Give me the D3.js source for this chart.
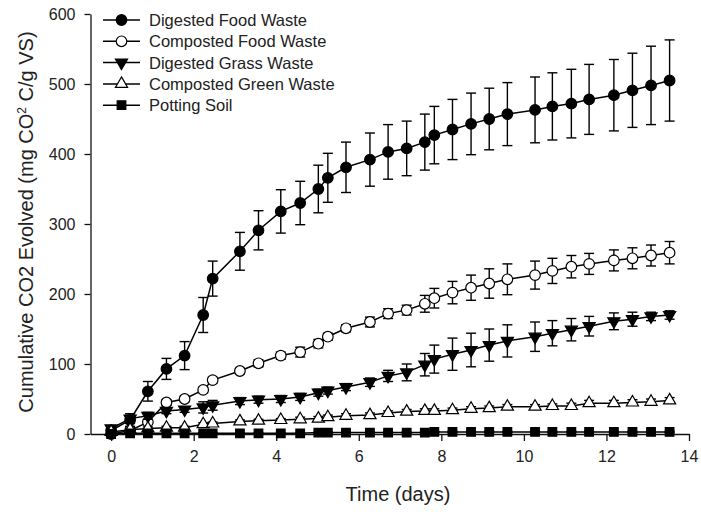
<!DOCTYPE html>
<html>
<head>
<meta charset="utf-8">
<script src="https://cdn.jsdelivr.net/npm/d3@7"></script>
<style>
  body { margin: 0; background: #fff; }
  svg text { font-family: Arial, "Liberation Sans", sans-serif; fill: #222; }
</style>
</head>
<body>
<div id="chart"></div>
<script>
// sampling times (days)
var days = [0, 0.46, 0.89, 1.34, 1.78, 2.23, 2.46, 3.12, 3.57, 4.11, 4.58, 5.02, 5.25, 5.69, 6.27, 6.71,
  7.16, 7.60, 7.83, 8.27, 8.72, 9.16, 9.60, 10.27, 10.69, 11.15, 11.58, 12.18, 12.63, 13.08, 13.53];

var digestedFood = [5, 20, 61, 93, 112, 170, 222, 261, 291, 318, 330, 350, 366, 381, 392, 403,
  408, 417, 427, 435, 443, 450, 457, 463, 468, 472, 478, 484, 491, 498, 505];
var digestedFoodErr = [3, 9, 14, 15, 20, 25, 25, 27, 28, 31, 31, 34, 35, 36, 38, 39,
  39, 40, 41, 43, 44, 44, 45, 47, 48, 49, 50, 51, 53, 56, 58];

var compostedFood = [0, 5, 17, 45, 50, 63, 77, 90, 101, 112, 117, 129, 139, 151, 160, 172,
  177, 186, 194, 202, 209, 215, 221, 227, 233, 239, 243, 248, 251, 255, 259];
var compostedFoodErr = [1, 2, 3, 4, 4, 4, 4, 4, 5, 5, 7, 6, 5, 5, 7, 7,
  7, 12, 14, 16, 18, 21, 22, 20, 18, 16, 15, 15, 15, 15, 16];

var digestedGrass = [8, 22, 26, 33, 35, 38, 41, 47, 49, 50, 53, 59, 62, 67, 74, 83,
  88, 99, 107, 114, 120, 127, 133, 139, 144, 149, 154, 161, 164, 168, 170];
var digestedGrassErr = [4, 7, 5, 4, 4, 8, 7, 5, 5, 5, 5, 5, 5, 5, 6, 8,
  12, 16, 20, 23, 24, 23, 23, 21, 18, 16, 14, 12, 10, 6, 6];

var compostedGreen = [3, 6, 8, 9, 9, 14, 15, 18, 19, 20, 21, 22, 24, 26, 27, 30,
  32, 33, 33, 34, 36, 37, 39, 39, 40, 40, 44, 44, 45, 46, 48];
var compostedGreenErr = [2, 2, 2, 2, 2, 2, 2, 2, 2, 2, 3, 3, 3, 3, 3, 3,
  3, 3, 3, 3, 3, 3, 3, 3, 3, 4, 4, 4, 4, 4, 4];

var pottingSoil = [0, 1, 1, 1, 1, 1, 1, 1, 1, 1, 1, 2, 2, 2, 2, 2,
  2, 2, 3, 3, 3, 3, 3, 3, 3, 3, 3, 3, 3, 3, 3];
var pottingSoilErr = [1, 1, 1, 1, 1, 1, 1, 1, 1, 1, 1, 1, 1, 1, 1, 1,
  1, 1, 1, 1, 1, 1, 1, 1, 1, 1, 1, 1, 1, 1, 1];

var xTicks = [0, 2, 4, 6, 8, 10, 12, 14];
var yTicks = [0, 100, 200, 300, 400, 500, 600];

var series = [
  { name: 'Digested Food Waste',    values: digestedFood,   err: digestedFoodErr,   shape: d3.symbolCircle,   fill: '#000', rot: 0 },
  { name: 'Composted Food Waste',   values: compostedFood,  err: compostedFoodErr,  shape: d3.symbolCircle,   fill: '#fff', rot: 0 },
  { name: 'Digested Grass Waste',   values: digestedGrass,  err: digestedGrassErr,  shape: d3.symbolTriangle, fill: '#000', rot: 180 },
  { name: 'Composted Green Waste',  values: compostedGreen, err: compostedGreenErr, shape: d3.symbolTriangle, fill: '#fff', rot: 0 },
  { name: 'Potting Soil',           values: pottingSoil,    err: pottingSoilErr,    shape: d3.symbolSquare,   fill: '#000', rot: 0 }
];

var svg = d3.select('#chart')
  .append('svg')
    .attr('width', 701)
    .attr('height', 512);

var x = d3.scaleLinear().domain([-0.5, 14]).range([90.5, 689]);
var y = d3.scaleLinear().domain([0, 600]).range([434, 14]);

// axes
var xAxis = svg.append('g')
  .attr('transform', 'translate(0,434)')
  .call(d3.axisBottom(x).tickValues(xTicks).tickSize(7).tickSizeOuter(0).tickPadding(10));

var yAxis = svg.append('g')
  .attr('transform', 'translate(90.5,0)')
  .call(d3.axisLeft(y).tickValues(yTicks).tickSize(6).tickSizeOuter(0).tickPadding(9));

[xAxis, yAxis].forEach(function(a) {
  a.selectAll('path, line').attr('stroke', '#111').attr('stroke-width', 1.3);
  a.selectAll('text').attr('font-size', 16).attr('fill', '#222');
});

// axis titles
svg.append('text')
  .attr('x', 398)
  .attr('y', 501)
  .attr('text-anchor', 'middle')
  .attr('font-size', 20)
  .text('Time (days)');

var yTitle = svg.append('text')
  .attr('transform', 'translate(33,222) rotate(-90)')
  .attr('text-anchor', 'middle')
  .attr('font-size', 20);
yTitle.append('tspan').text('Cumulative CO2 Evolved (mg CO');
yTitle.append('tspan').attr('font-size', 12).attr('baseline-shift', 'super').text('2');
yTitle.append('tspan').text(' C/g VS)');

var symbolSize = function(s) {
  if (s.shape === d3.symbolCircle) return 88;
  if (s.shape === d3.symbolTriangle) return 64;
  return 74;
};

var line = d3.line()
  .x(function(d) { return x(d.t); })
  .y(function(d) { return y(d.v); });

series.forEach(function(s) {
  var pts = days.map(function(t, i) { return { t: t, v: s.values[i], e: s.err[i] }; });
  var g = svg.append('g').attr('class', 'series');

  g.append('path')
    .datum(pts)
    .attr('d', line)
    .attr('fill', 'none')
    .attr('stroke', '#000')
    .attr('stroke-width', 1.5);

  // error bars with caps
  var eb = g.selectAll('g.err')
    .data(pts)
    .enter()
      .append('g')
        .attr('class', 'err')
        .attr('stroke', '#000')
        .attr('stroke-width', 1.4);
  eb.append('line')
    .attr('x1', function(d) { return x(d.t); })
    .attr('x2', function(d) { return x(d.t); })
    .attr('y1', function(d) { return y(d.v - d.e); })
    .attr('y2', function(d) { return y(d.v + d.e); });
  eb.append('line')
    .attr('x1', function(d) { return x(d.t) - 5; })
    .attr('x2', function(d) { return x(d.t) + 5; })
    .attr('y1', function(d) { return y(d.v + d.e); })
    .attr('y2', function(d) { return y(d.v + d.e); });
  eb.append('line')
    .attr('x1', function(d) { return x(d.t) - 5; })
    .attr('x2', function(d) { return x(d.t) + 5; })
    .attr('y1', function(d) { return y(d.v - d.e); })
    .attr('y2', function(d) { return y(d.v - d.e); });

  g.selectAll('path.pt')
    .data(pts)
    .enter()
      .append('path')
        .attr('class', 'pt')
        .attr('d', d3.symbol().type(s.shape).size(symbolSize(s)))
        .attr('transform', function(d) {
          return 'translate(' + x(d.t) + ',' + y(d.v) + ') rotate(' + s.rot + ')';
        })
        .attr('fill', s.fill)
        .attr('stroke', '#000')
        .attr('stroke-width', 1.2);
});

// legend
var legend = svg.append('g')
  .attr('class', 'legend')
  .selectAll('g')
  .data(series)
    .enter()
      .append('g')
        .attr('transform', function(d, i) { return 'translate(0,' + (20 + 21.3 * i) + ')'; });

legend.append('line')
  .attr('x1', 103).attr('x2', 140)
  .attr('stroke', '#000').attr('stroke-width', 1.5);
legend.append('path')
  .attr('d', function(d) { return d3.symbol().type(d.shape).size(symbolSize(d))(); })
  .attr('transform', function(d) { return 'translate(121.5,0) rotate(' + d.rot + ')'; })
  .attr('fill', function(d) { return d.fill; })
  .attr('stroke', '#000')
  .attr('stroke-width', 1.2);
legend.append('text')
  .attr('x', 149)
  .attr('dy', '0.36em')
  .attr('font-size', 16.5)
  .text(function(d) { return d.name; });
</script>
</body>
</html>
